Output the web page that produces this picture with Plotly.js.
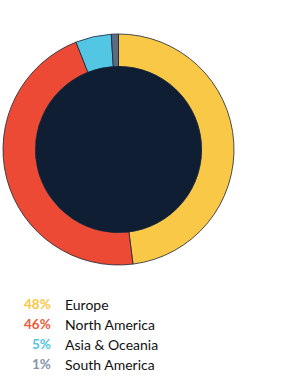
<!DOCTYPE html>
<html>
<head>
<meta charset="utf-8">
<script src="https://cdn.plot.ly/plotly-3.0.1.min.js"></script>
<style>html,body{margin:0;padding:0;background:#fff;}#chart{width:295px;height:391px;}</style>
</head>
<body>
<div id="chart"></div>
<script>
const regions = ["Europe", "North America", "Asia & Oceania", "South America"];
const shares = [48, 46, 5, 1];
const sliceColors = ["#F9C846", "#EC4A34", "#53C6E4", "#5B6A85"];
const pctColors = ["#F9C846", "#EE5A36", "#53C6E4", "#8593AE"];
const pctLabels = ["48%", "46%", "5%", "1%"];

const W = 295, H = 391;
const cx = 118.5, cy = 149.5, R = 115.5, r = 83;
const px = x => x / W;
const py = y => 1 - y / H;

const trace = {
  type: "pie",
  labels: regions,
  values: shares,
  sort: false,
  direction: "clockwise",
  rotation: 0,
  hole: r / R,
  textinfo: "none",
  hoverinfo: "label+percent",
  marker: {colors: sliceColors, line: {color: "#1B2436", width: 0.8}},
  domain: {x: [px(cx - R), px(cx + R)], y: [py(cy + R), py(cy - R)]},
  showlegend: false
};

const annotations = [];
const rowY = [304.3, 324.3, 344.3, 364.3];
regions.forEach((name, i) => {
  annotations.push({
    xref: "paper", yref: "paper", x: px(52.5), y: py(rowY[i]),
    xanchor: "right", yanchor: "middle", showarrow: false,
    text: "<b>" + pctLabels[i] + "</b>",
    font: {family: "Lato, 'Open Sans', sans-serif", size: 13.5, color: pctColors[i]}
  });
  annotations.push({
    xref: "paper", yref: "paper", x: px(62.5), y: py(rowY[i]),
    xanchor: "left", yanchor: "middle", showarrow: false,
    text: name,
    font: {family: "Lato, 'Open Sans', sans-serif", size: 14, color: "#111111"}
  });
});

const layout = {
  width: W, height: H,
  margin: {l: 0, r: 0, t: 0, b: 0},
  paper_bgcolor: "#ffffff",
  showlegend: false,
  annotations: annotations,
  shapes: [{
    type: "circle", xref: "paper", yref: "paper",
    x0: px(cx - r), x1: px(cx + r), y0: py(cy + r), y1: py(cy - r),
    fillcolor: "#0F1E33", line: {color: "#0F1E33", width: 0.5}, layer: "above"
  }]
};

Plotly.newPlot("chart", [trace], layout, {displayModeBar: false, staticPlot: true});
</script>
</body>
</html>
